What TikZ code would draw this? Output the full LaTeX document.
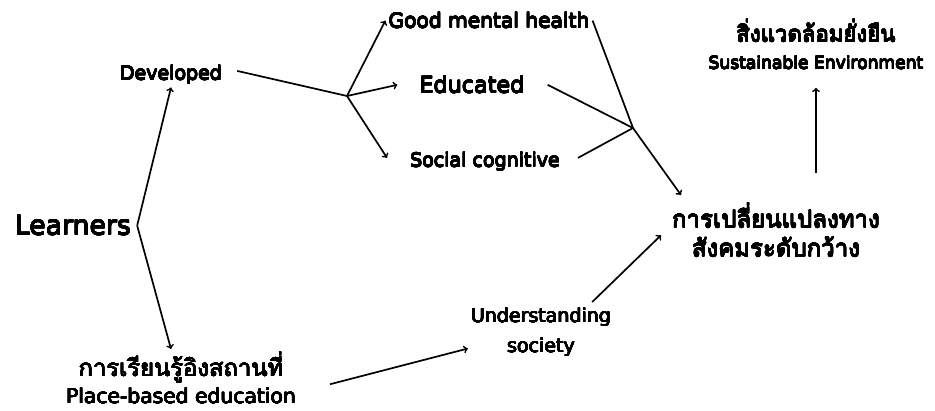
\documentclass[tikz,border=0pt]{standalone}
\usepackage{fontspec}
\usepackage{contour}
\setmainfont{DejaVu Sans}
\newfontfamily\thaifont{Loma}[Script=Thai]
\usetikzlibrary{positioning}
\contourlength{0.3pt}
\contournumber{16}
\newcommand{\heavy}[1]{\contour{black}{#1}}

\tikzset{
  txt/.style={font=\fontsize{19}{30}\selectfont},
  twoline/.style={align=center, font=\fontsize{19}{30}\selectfont},
  link/.style={line width=1.7pt},
  arr/.style={link,->}
}

\begin{document}
\begin{tikzpicture}[x=1pt,y=-1pt,inner sep=3pt,>=to]
\useasboundingbox (0,0) rectangle (935,411);
\node [txt,font=\fontsize{26.7}{30}\selectfont,inner xsep=6pt,anchor=base] (L) at (73,235) {\heavy{Learners}};
\node [txt,anchor=base] (D) at (171,80) {\heavy{Developed}};
\node [txt,font=\fontsize{20.2}{24}\selectfont,anchor=base] (G) at (489,28) {\heavy{Good mental health}};
\node [txt,font=\fontsize{22.3}{26}\selectfont,anchor=base] (E) at (472,93) {\heavy{Educated}};
\node [txt,anchor=base] (S) at (485,167) {\heavy{Social cognitive}};
\node [twoline,anchor=north] (U) at (541,305) {\heavy{Understanding}\\\heavy{society}};
\node [twoline,font=\thaifont\fontsize{24}{29}\selectfont,anchor=north] (C) at (776,200) {\heavy{การเปลี่ยนแปลงทาง}\\\heavy{สังคมระดับกว้าง}};
\node [twoline,font=\fontsize{20.3}{27}\selectfont,anchor=north] (P) at (181,349) {{\thaifont\fontsize{23.8}{27}\selectfont\heavy{การเรียนรู้อิงสถานที่}}\\\heavy{Place-based education}};
\node [twoline,font=\fontsize{17.1}{27}\selectfont,anchor=north] (V) at (816,16) {{\thaifont\fontsize{22.2}{27}\selectfont\heavy{สิ่งแวดล้อมยั่งยืน}}\\\heavy{Sustainable Environment}};
\coordinate (jA) at (347,96);
\coordinate (jB) at (633,128);
% learners splits in two
\draw [arr] (L.east) -- (D.south);
\draw [arr] (L.east) -- (P.north -| D.south);
% developed branches out
\draw [link] ([xshift=12pt,yshift=4pt]D.east) -- (jA);
\draw [arr] (jA) -- (G.west);
\draw [arr] (jA) -- ([xshift=-19pt]E.west);
\draw [arr] (jA) -- ([xshift=-20pt,yshift=4pt]S.west);
% the three meet again
\draw [link] (G.east) -- (jB);
\draw [link] ([xshift=20pt]E.east) -- (jB);
\draw [link] ([xshift=15pt,yshift=4pt]S.east) -- (jB);
\draw [arr] (jB) -- ([xshift=12pt,yshift=5pt]C.north west);
% lower path
\draw [arr] ([xshift=31pt,yshift=-6pt]P.east) -- ([yshift=-16pt]U.west);
\draw [arr] ([xshift=-22pt,yshift=3pt]U.north east) -- ([xshift=-8pt,yshift=-5pt]C.west);
\draw [arr,shorten <=27pt,shorten >=15pt] (C.north -| V.south) -- (V.south);
\end{tikzpicture}
\end{document}
